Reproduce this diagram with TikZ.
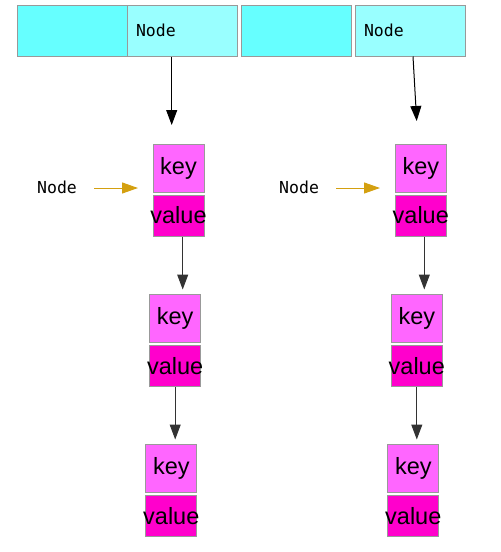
\documentclass[tikz,border=0pt]{standalone}
\usepackage{fontspec}
\setmainfont{Liberation Sans}
\newfontfamily\monofont{DejaVu Sans Mono}
\usetikzlibrary{arrows.meta}
\definecolor{slotdark}{HTML}{66FFFF}
\definecolor{slotlight}{HTML}{99FFFF}
\definecolor{keypink}{HTML}{FF66FF}
\definecolor{valpink}{HTML}{FF00CC}
\definecolor{ptrorange}{HTML}{D4A010}
\definecolor{edgegray}{HTML}{999999}
\newcommand{\wide}[1]{\makebox[0pt]{#1}}

\begin{document}
\begin{tikzpicture}[x=1pt,y=-1pt]
            \tikzstyle{slot}=[draw=edgegray, line width=1pt, minimum width=110pt, minimum height=51pt, inner sep=0pt]
            \tikzstyle{slottext}=[slot, fill=slotlight, text width=92pt, inner xsep=9pt, align=left, font=\monofont\fontsize{16.5}{16.5}\selectfont]
            \tikzstyle{keybox}=[draw=edgegray, line width=1pt, fill=keypink, minimum width=51pt, minimum height=48pt, inner sep=0pt, font=\fontsize{23.5}{23.5}\selectfont]
            \tikzstyle{valbox}=[draw=edgegray, line width=1pt, fill=valpink, minimum width=51pt, minimum height=41pt, inner sep=0pt, font=\fontsize{23.5}{23.5}\selectfont]
            \tikzstyle{label}=[font=\monofont\fontsize{16.5}{16.5}\selectfont, inner sep=0pt]
            \tikzstyle{ptr}=[line width=1pt, -{Triangle[length=15pt,width=11pt]}]
            \tikzstyle{hint}=[line width=1pt, ptrorange, -{Triangle[length=16pt,width=11pt]}]

            \useasboundingbox (0,0) rectangle (501,552);

            % table slots
            \node[slot, fill=slotdark] (slot1) at (72,30.5) {};
            \node[slottext] (slot2) at (182,30.5) {Node};
            \node[slot, fill=slotdark] (slot3) at (296,30.5) {};
            \node[slottext] (slot4) at (410,30.5) {Node};

            % first chain
            \node[keybox] (kA1) at (178.5,168) {key};
            \node[valbox] (vA1) at (178.5,215.5) {\wide{value}};
            \node[keybox] (kA2) at (175.2,318) {key};
            \node[valbox] (vA2) at (175.2,366) {\wide{value}};
            \node[keybox] (kA3) at (171.3,468) {key};
            \node[valbox] (vA3) at (171.3,516) {\wide{value}};

            % second chain
            \node[keybox] (kB1) at (420.8,168) {key};
            \node[valbox] (vB1) at (420.8,215.5) {\wide{value}};
            \node[keybox] (kB2) at (416.8,318) {key};
            \node[valbox] (vB2) at (416.8,366) {\wide{value}};
            \node[keybox] (kB3) at (413.3,468) {key};
            \node[valbox] (vB3) at (413.3,516) {\wide{value}};

            % node labels
            \node[label, anchor=west] (nA) at (37,187) {Node};
            \node[label, anchor=west] (nB) at (279,187) {Node};
            \coordinate (hA) at (138,188);
            \coordinate (hB) at (380,188);
            \draw[hint] (94,188) -- (hA);
            \draw[hint] (336,188) -- (hB);

            % slot pointers
            \coordinate (tA) at (171.7,125);
            \coordinate (tB) at (416.7,121);
            \draw[ptr] (slot2.south -| tA) -- (tA);
            \draw[ptr] ([xshift=3pt]slot4.south) -- (tB);

            % next pointers
            \draw[ptr, black!80] ([xshift=4.2pt]vA1.south) coordinate (sA1) -- ([yshift=4pt]kA2.north -| sA1);
            \draw[ptr, black!80] ([xshift=0pt]vA2.south) coordinate (sA2) -- ([yshift=4pt]kA3.north -| sA2);
            \draw[ptr, black!80] ([xshift=3.5pt]vB1.south) coordinate (sB1) -- ([yshift=4pt]kB2.north -| sB1);
            \draw[ptr, black!80] ([xshift=0pt]vB2.south) coordinate (sB2) -- ([yshift=4pt]kB3.north -| sB2);
        \end{tikzpicture}
\end{document}
